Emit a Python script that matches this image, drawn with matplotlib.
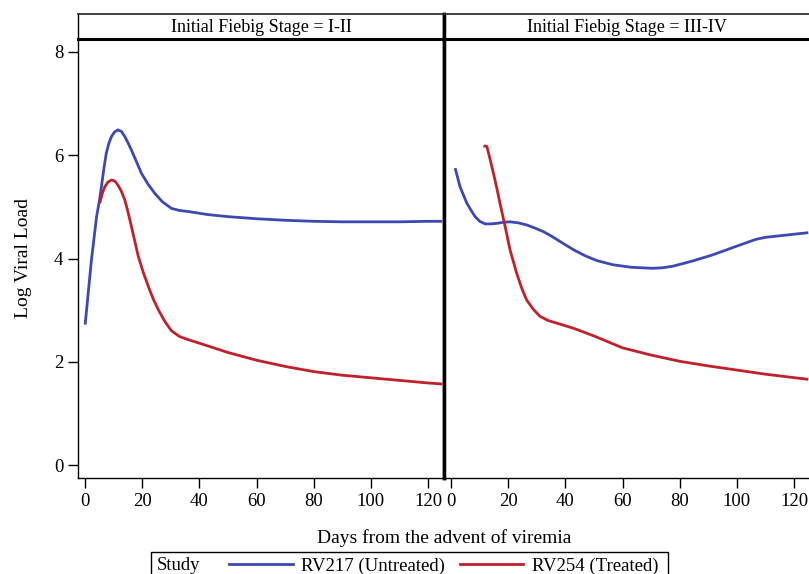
import matplotlib
matplotlib.use("Agg")
import matplotlib.pyplot as plt
from matplotlib.lines import Line2D
from matplotlib.patches import Rectangle

plt.rcParams['font.family'] = ['Liberation Serif', 'DejaVu Serif']

# ---- data ----
panels = ["Initial Fiebig Stage = I-II", "Initial Fiebig Stage = III-IV"]
series_labels = ["RV217 (Untreated)", "RV254 (Treated)"]
colors = ["#3D49B2", "#C0212B"]

# Fiebig I-II
rv217_12_days = [0, 2.2, 4.0, 5.0, 5.7, 6.5, 7.4, 8.3, 9.2, 10.3, 11.5, 12.7, 13.9, 15.0, 16.2, 18.0, 19.7, 22.0, 24.4, 27.0, 30.2, 33.0, 36, 43, 50, 60, 70, 80, 90, 100, 110, 120, 125]
rv217_12_vals = [2.72, 3.97, 4.81, 5.12, 5.39, 5.72, 6.04, 6.23, 6.36, 6.45, 6.49, 6.46, 6.36, 6.24, 6.1, 5.87, 5.65, 5.44, 5.26, 5.1, 4.97, 4.93, 4.91, 4.85, 4.81, 4.77, 4.74, 4.72, 4.71, 4.71, 4.71, 4.72, 4.72]
rv254_12_days = [5.1, 6.0, 6.9, 8.0, 9.2, 10.4, 11.5, 12.7, 13.9, 15.0, 16.2, 17.4, 18.6, 20.3, 22.1, 23.8, 25.6, 27.8, 30.2, 33.0, 36, 40, 50, 60, 70, 80, 90, 100, 110, 120, 125]
rv254_12_vals = [5.07, 5.26, 5.39, 5.48, 5.52, 5.5, 5.42, 5.3, 5.13, 4.9, 4.62, 4.33, 4.04, 3.74, 3.46, 3.22, 3.01, 2.79, 2.6, 2.49, 2.43, 2.36, 2.18, 2.03, 1.91, 1.81, 1.74, 1.69, 1.64, 1.59, 1.57]

# Fiebig III-IV
rv217_34_days = [1.4, 3.1, 5.5, 7.0, 8.4, 10.0, 11.9, 13.9, 15.9, 18.2, 20.6, 23.5, 26.4, 29.3, 32.3, 35.2, 38.1, 42.8, 47, 51, 56.5, 63, 70.5, 74, 77.5, 81, 85, 91.5, 100, 106.6, 110, 115, 120, 125]
rv217_34_vals = [5.75, 5.39, 5.07, 4.93, 4.81, 4.72, 4.67, 4.67, 4.68, 4.7, 4.71, 4.69, 4.65, 4.59, 4.52, 4.43, 4.33, 4.17, 4.05, 3.96, 3.88, 3.83, 3.81, 3.82, 3.85, 3.9, 3.96, 4.07, 4.24, 4.37, 4.41, 4.44, 4.47, 4.5]
rv254_34_days = [11.3, 12.5, 13.6, 14.8, 16.0, 17.1, 18.9, 20.6, 22.9, 24.6, 26.4, 28.7, 31.1, 33.9, 36.9, 42.8, 50, 60, 70, 80, 90, 100, 110, 125]
rv254_34_vals = [6.18, 6.17, 5.93, 5.65, 5.36, 5.07, 4.62, 4.17, 3.72, 3.44, 3.2, 3.02, 2.88, 2.8, 2.75, 2.65, 2.5, 2.27, 2.13, 2.01, 1.92, 1.84, 1.76, 1.66]

x_ticks = [0, 20, 40, 60, 80, 100, 120]
y_ticks = [0, 2, 4, 6, 8]

panel_data = [
    [(rv217_12_days, rv217_12_vals), (rv254_12_days, rv254_12_vals)],
    [(rv217_34_days, rv217_34_vals), (rv254_34_days, rv254_34_vals)],
]

W, H = 809, 574
fig = plt.figure(figsize=(W / 100, H / 100), dpi=100)

def fx(px):
    return px / W

def fy(py):
    return 1 - py / H

ax_left_px = [78, 444]
ax_w_px = 366
plot_top, plot_bot = 39, 478
head_top = 14

for i, (title, data) in enumerate(zip(panels, panel_data)):
    x0 = ax_left_px[i]
    ax = fig.add_axes([fx(x0), fy(plot_bot), fx(ax_w_px), (plot_bot - plot_top) / H])
    for (d, v), c in zip(data, colors):
        ax.plot(d, v, color=c, lw=2.0, solid_capstyle='butt', solid_joinstyle='round')
    ax.set_xlim(-2.5, 125.6)
    ax.set_ylim(-0.25, 8.25)
    ax.set_xticks(x_ticks)
    ax.set_yticks(y_ticks)
    ax.tick_params(axis='both', direction='out', length=7, width=1.0, labelsize=13.5, colors='black')
    ax.tick_params(axis='x', pad=4)
    for s in ax.spines.values():
        s.set_linewidth(1.0)
    ax.spines['top'].set_visible(False)
    if i == 0:
        ax.spines['right'].set_linewidth(2.5)
        ax.set_ylabel("Log Viral Load", fontsize=14, labelpad=16)
    else:
        ax.spines['left'].set_linewidth(2.5)
        ax.spines['right'].set_visible(False)
        ax.tick_params(axis='y', left=False, labelleft=False)
    # header strip
    hax = fig.add_axes([fx(x0), fy(plot_top), fx(ax_w_px), (plot_top - head_top) / H])
    hax.set_xticks([]); hax.set_yticks([])
    hax.set_xlim(0, 1); hax.set_ylim(0, 1)
    hax.spines['top'].set_linewidth(1.3)
    hax.spines['top'].set_color('#333333')
    hax.spines['bottom'].set_linewidth(2.2)
    hax.spines['left'].set_linewidth(1.0)
    if i == 0:
        hax.spines['right'].set_linewidth(2.5)
    else:
        hax.spines['left'].set_linewidth(2.5)
        hax.spines['right'].set_visible(False)
    hax.text(0.5, 0.45, title, ha='center', va='center', fontsize=13)

fig.text(fx(444), fy(538), "Days from the advent of viremia", ha='center', va='center', fontsize=14)

# legend (manual, bottom cut off like reference)
fig.patches.append(Rectangle((fx(151), fy(600)), fx(668 - 151), (600 - 552) / H,
                             transform=fig.transFigure, fill=False, edgecolor='black', lw=1.0))
fig.text(fx(157), fy(566), "Study", ha='left', va='center', fontsize=13.5)
for (lx0, lx1, tx), lab, c in zip([(229, 293, 301), (460, 523, 532)], series_labels, colors):
    fig.add_artist(Line2D([fx(lx0), fx(lx1)], [fy(564), fy(564)], color=c, lw=2.0,
                          transform=fig.transFigure))
    fig.text(fx(tx), fy(566), lab, ha='left', va='center', fontsize=13.5)

fig.savefig("out.png", dpi=100)
